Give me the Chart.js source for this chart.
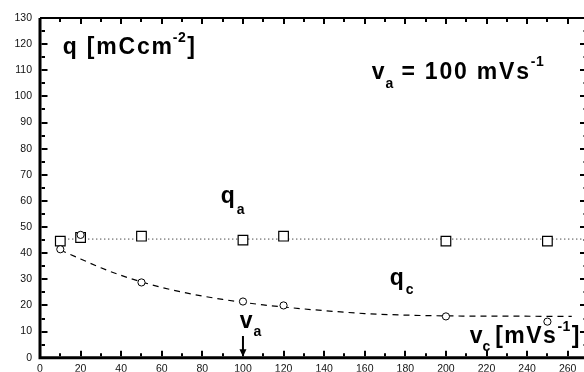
<!DOCTYPE html>
<html>
<head>
<meta charset="utf-8">
<script src="https://cdn.jsdelivr.net/npm/chart.js@4.4.1/dist/chart.umd.min.js"></script>
<style>
  html, body { margin: 0; padding: 0; background: #fff; overflow: hidden; }
  #wrap { width: 584px; height: 372px; overflow: hidden; position: relative; }
  canvas { display: block; }
</style>
</head>
<body>
<div id="wrap"><canvas id="c" width="600" height="372"></canvas></div>
<script>
// ---- data ----
const vcA = [10, 20, 50, 100, 120, 200, 250];           // v_c [mV/s] for q_a
const qaValues = [44.6, 46, 46.5, 45, 46.5, 44.6, 44.6]; // q_a [mC/cm2]
const vcC = [10, 20, 50, 100, 120, 200, 250];           // v_c for q_c
const qcValues = [41.5, 47, 28.8, 21.5, 20, 15.8, 13.8]; // q_c [mC/cm2]
const qaLineX = [10, 270];
const qaLineY = [45.4, 45.4];
const qcFitX = [10, 20, 30, 40, 50, 60, 70, 80, 90, 100, 110, 120, 140, 160, 180, 200, 230, 262];
const qcFitY = [41.2, 37.8, 34.4, 31.5, 29, 26.9, 25.1, 23.6, 22.3, 21.2, 20.2, 19.4, 18.0, 16.9, 16.3, 16.0, 15.9, 15.8];
const xTickLabels = [0, 20, 40, 60, 80, 100, 120, 140, 160, 180, 200, 220, 240, 260];
const yTickLabels = [0, 10, 20, 30, 40, 50, 60, 70, 80, 90, 100, 110, 120, 130];
const vaValue = 100;

const pts = (xs, ys) => xs.map((x, i) => ({ x, y: ys[i] }));
const FONT = '"Liberation Sans", Arial, sans-serif';

const decorPlugin = {
  id: 'decor',
  afterDraw(chart) {
    const ctx = chart.ctx;
    const xs = chart.scales.x, ys = chart.scales.y;
    const a = chart.chartArea;
    const X = v => xs.getPixelForValue(v), Y = v => ys.getPixelForValue(v);
    ctx.save();
    ctx.strokeStyle = '#000';
    ctx.fillStyle = '#000';
    // frame
    ctx.lineWidth = 3;
    ctx.beginPath();
    ctx.moveTo(a.left, a.top); ctx.lineTo(a.left, a.bottom + 1.5);
    ctx.moveTo(a.left - 1.5, a.bottom); ctx.lineTo(a.right, a.bottom);
    ctx.stroke();
    ctx.lineWidth = 2;
    ctx.beginPath();
    ctx.moveTo(a.left, a.top); ctx.lineTo(a.right, a.top); ctx.lineTo(a.right, a.bottom);
    ctx.stroke();
    // x ticks (inward)
    ctx.lineWidth = 2;
    ctx.beginPath();
    for (let v = 10; v < 270; v += 10) {
      const major = v % 20 === 0;
      const px = Math.round(X(v));
      ctx.moveTo(px, a.bottom - 1.5); ctx.lineTo(px, a.bottom - 1.5 - (major ? 5.5 : 3));
      ctx.moveTo(px, a.top + 1); ctx.lineTo(px, a.top + 1 + (major ? 5 : 3));
    }
    // y ticks
    for (let v = 5; v < 130; v += 5) {
      const major = v % 10 === 0;
      const py = Math.round(Y(v));
      ctx.moveTo(a.left + 1.5, py); ctx.lineTo(a.left + 1.5 + (major ? 6 : 3.5), py);
      ctx.moveTo(a.right - 1, py); ctx.lineTo(a.right - 1 - (major ? 7 : 3.5), py);
    }
    ctx.stroke();

    // text helpers
    const big = 'bold 23px ' + FONT, small = 'bold 14px ' + FONT;
    ctx.textBaseline = 'alphabetic';
    ctx.textAlign = 'left';
    const put = (txt, font, x, y, ls) => {
      ctx.font = font;
      ctx.letterSpacing = (ls || 0) + 'px';
      ctx.fillText(txt, x, y);
      return x + ctx.measureText(txt).width;
    };
    // q [mCcm-2]
    let x0 = X(11.2), y0 = Y(116.2);
    let x1 = put('q [mCcm', big, x0, y0, 1.8);
    x1 = put('-2', small, x1 - 1, y0 - 12, 0.5);
    put(']', big, x1 + 1, y0, 0);
    // v_a = 100 mVs-1
    x0 = X(163.4); y0 = Y(106.5);
    x1 = put('v', big, x0, y0, 0);
    x1 = put('a', small, x1 + 1, y0 + 9, 0);
    x1 = put(' = 100 mVs', big, x1, y0, 1.8);
    put('-1', small, x1, y0 - 13, 0.5);
    // q_a
    x0 = X(89); y0 = Y(59.2);
    x1 = put('q', big, x0, y0, 0);
    put('a', small, x1 + 2, y0 + 11, 0);
    // q_c
    x0 = X(172.3); y0 = Y(27.7);
    x1 = put('q', big, x0, y0, 0);
    put('c', small, x1 + 2, y0 + 9, 0);
    // v_a (arrow label)
    x0 = X(98.4); y0 = Y(11.2);
    x1 = put('v', big, x0, y0, 0);
    put('a', small, x1 + 1, y0 + 8, 0);
    // arrow at v_a
    const ax = X(vaValue);
    ctx.lineWidth = 2;
    ctx.beginPath();
    ctx.moveTo(ax, Y(8.3)); ctx.lineTo(ax, Y(2));
    ctx.stroke();
    ctx.beginPath();
    ctx.moveTo(ax - 3.5, Y(3.2)); ctx.lineTo(ax + 3.5, Y(3.2)); ctx.lineTo(ax, a.bottom - 1);
    ctx.closePath(); ctx.fill();
    // v_c [mVs-1]
    x0 = X(211.7); y0 = Y(5.8);
    x1 = put('v', big, x0, y0, 0);
    x1 = put('c', small, x1 + 0, y0 + 8, 0);
    x1 = put(' [mVs', big, x1 - 3, y0, 1.5);
    x1 = put('-1', small, x1, y0 - 12, 0.5);
    put(']', big, x1 + 1, y0, 0);
    ctx.restore();
  }
};

new Chart(document.getElementById('c'), {
  type: 'scatter',
  data: {
    datasets: [
      {
        label: 'q_c',
        data: pts(vcC, qcValues),
        pointStyle: 'circle', pointRadius: 3.6, pointBorderWidth: 1,
        borderColor: '#000', backgroundColor: '#fff', showLine: false, order: 1
      },
      {
        label: 'q_a',
        data: pts(vcA, qaValues),
        pointStyle: 'rect', pointRadius: 6.8, pointBorderWidth: 1.2,
        borderColor: '#000', backgroundColor: '#fff', showLine: false, order: 2
      },
      {
        label: 'q_a fit',
        data: pts(qaLineX, qaLineY),
        showLine: true, pointRadius: 0, borderColor: '#000', borderWidth: 1,
        borderDash: [1, 3], order: 3
      },
      {
        label: 'q_c fit',
        data: pts(qcFitX, qcFitY),
        showLine: true, pointRadius: 0, borderColor: '#000', borderWidth: 1.2,
        borderDash: [6, 5], tension: 0.4, cubicInterpolationMode: 'monotone', order: 4
      }
    ]
  },
  options: {
    responsive: false,
    animation: false,
    devicePixelRatio: 1,
    layout: { padding: { top: 18, right: 12, left: 0, bottom: 0 } },
    plugins: { legend: { display: false }, tooltip: { enabled: false } },
    scales: {
      x: {
        type: 'linear', min: 0, max: 270,
        afterFit: s => { s.height = 14; },
        afterBuildTicks: s => { s.ticks = xTickLabels.map(v => ({ value: v })); },
        ticks: { stepSize: 20, padding: 5, color: '#111', font: { family: FONT, size: 10.5 }, maxRotation: 0, autoSkip: false },
        grid: { display: false, drawTicks: false },
        border: { display: false }
      },
      y: {
        type: 'linear', min: 0, max: 130,
        afterFit: s => { s.width = 40; },
        afterBuildTicks: s => { s.ticks = yTickLabels.map(v => ({ value: v })); },
        ticks: { stepSize: 10, padding: 8, color: '#111', font: { family: FONT, size: 10.5 }, autoSkip: false },
        grid: { display: false, drawTicks: false },
        border: { display: false }
      }
    }
  },
  plugins: [decorPlugin]
});
</script>
</body>
</html>
